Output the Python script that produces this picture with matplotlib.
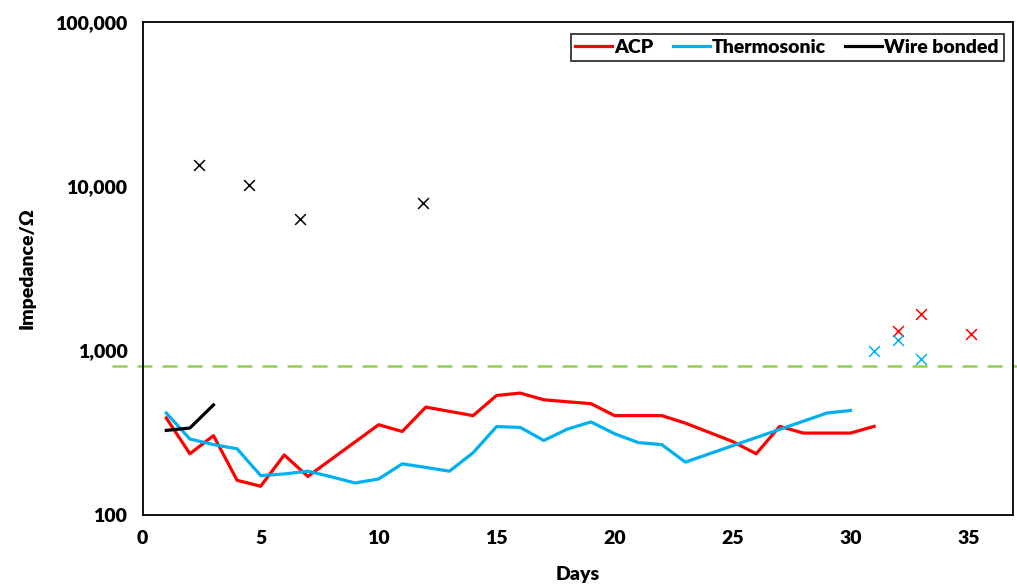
import numpy as np
import matplotlib.pyplot as plt
from matplotlib.ticker import FuncFormatter, NullLocator
import matplotlib.transforms as mtransforms

plt.rcParams['font.family'] = ['Lato', 'DejaVu Sans']
plt.rcParams['font.weight'] = 'heavy'

# ACP line
acp_days = [1, 2, 3, 4, 5, 6, 7, 10, 11, 12, 14, 15, 16, 17, 18, 19, 20, 21, 22, 23, 25, 26, 27, 28, 29, 30, 31]
acp_vals = [388, 235, 303, 162, 149, 231, 171, 353, 321, 452, 401, 532, 550, 501, 487, 474, 401, 401, 401, 361, 279, 235, 345, 314, 314, 314, 345]

# Thermosonic line
ts_days = [1, 2, 3, 4, 5, 6, 7, 8, 9, 10, 11, 12, 13, 14, 15, 16, 17, 18, 19, 20, 21, 22, 23, 29, 30]
ts_vals = [416, 289, 267, 252, 173, 177, 184, 170, 156, 165, 204, 194, 184, 238, 344, 340, 283, 332, 367, 311, 275, 267, 209, 416, 431]

# Wire bonded line
wb_days = [1, 2, 3]
wb_vals = [326, 337, 466]

# failure points (x markers)
wb_fail_days = [2.4, 4.5, 6.65, 11.9]
wb_fail_vals = [13500, 10200, 6310, 7890]
acp_fail_days = [32, 33, 35.1]
acp_fail_vals = [1306, 1667, 1259]
ts_fail_days = [31, 32, 33]
ts_fail_vals = [995, 1162, 887]

threshold = 800

red = '#FF0000'
blue = '#00B0F0'
green = '#92D050'

fig = plt.figure(figsize=(10.17, 5.86), dpi=100)
ax = fig.add_axes([0.1403, 0.1217, 0.8561, 0.8408])

ax.plot(acp_days, acp_vals, color=red, lw=2.3, label='ACP')
ax.plot(ts_days, ts_vals, color=blue, lw=2.3, label='Thermosonic')
ax.plot(wb_days, wb_vals, color='black', lw=2.3, label='Wire bonded')

ax.scatter(wb_fail_days, wb_fail_vals, marker='x', color='black', s=60, lw=1.1, zorder=3)
ax.scatter(acp_fail_days, acp_fail_vals, marker='x', color=red, s=60, lw=1.1, zorder=3)
ax.scatter(ts_fail_days, ts_fail_vals, marker='x', color=blue, s=60, lw=1.1, zorder=3)

# threshold line runs past the plot edges
trans = mtransforms.blended_transform_factory(ax.transAxes, ax.transData)
ax.plot([-0.035, 1.005], [threshold, threshold], transform=trans, color=green,
        lw=1.8, ls=(0, (6, 4)), clip_on=False, zorder=1)

ax.set_yscale('log')
ax.set_ylim(100, 100000)
ax.set_xlim(0, 36.9)
ax.set_xticks(range(0, 36, 5))
ax.set_yticks([100, 1000, 10000, 100000])
ax.yaxis.set_minor_locator(NullLocator())
ax.yaxis.set_major_formatter(FuncFormatter(lambda v, p: '{:,.0f}'.format(v)))
ax.tick_params(length=0, labelsize=14, pad=11)
for lab in ax.get_xticklabels() + ax.get_yticklabels():
    lab.set_fontweight('heavy')
for sp in ax.spines.values():
    sp.set_linewidth(1.3)

ax.set_xlabel('Days', fontsize=14, fontweight='heavy', labelpad=14)
ax.set_ylabel('Impedance/Ω', fontsize=14, fontweight='heavy', labelpad=14)

leg = ax.legend(loc='upper right', ncol=3, fontsize=14, handlelength=1.9,
                handletextpad=0.1, columnspacing=1.0, fancybox=False,
                edgecolor='black', borderpad=0.25, bbox_to_anchor=(1.0, 0.995))
leg.get_frame().set_linewidth(1.3)

fig.savefig('out.png', dpi=100)
